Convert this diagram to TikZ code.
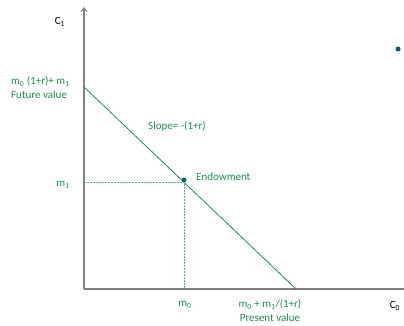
\documentclass[tikz,border=0pt]{standalone}
\usepackage{amsmath}
\usepackage{xcolor}
\usepackage{fontspec}
\setmainfont{Carlito}
\usetikzlibrary{arrows.meta}

\definecolor{budgetgreen}{RGB}{30,140,80}
\definecolor{axisgray}{RGB}{128,128,128}
\definecolor{dotblue}{RGB}{20,90,110}

\tikzset{
    lbl/.style={text=budgetgreen, font=\fontsize{11}{14}\selectfont, inner sep=1pt},
    axlbl/.style={text=black, font=\fontsize{11}{14}\selectfont, inner sep=1pt},
    guide/.style={budgetgreen!70, dashed, dash pattern=on 2pt off 1pt, line width=0.5pt},
    dot/.style={circle, fill=dotblue, inner sep=0pt, minimum size=5pt}
}

\begin{document}
\begin{tikzpicture}[x=1pt, y=-1pt]
    \useasboundingbox (0,0) rectangle (404,326);

    % Axes
    \coordinate (O) at (84,289);
    \coordinate (ytop) at (84,7);
    \coordinate (xend) at (404,289);
    \draw[axisgray, line width=2pt, -{Straight Barb[length=4pt, width=6pt, line width=1pt]}] (O) -- (ytop);
    \draw[axisgray, line width=2pt] (O) -- (xend);
    \node[axlbl] (c1) at (60,22) {C\textsubscript{1}};
    \node[axlbl] (c0) at (395,306) {C\textsubscript{0}};

    % Budget line
    \coordinate (fv) at (84,87);
    \coordinate (pv) at (296,289);
    \draw[budgetgreen, line width=0.8pt] (fv) -- (pv);
    \node[lbl, align=left, anchor=west] (fvlabel) at (10,88) {m\textsubscript{0} (1+r)+ m\textsubscript{1}\\Future value};
    \node[lbl, align=center] (pvlabel) at (270,311) {m\textsubscript{0} + m\textsubscript{1}/(1+r)\\Present value};
    \node[lbl] (slope) at (177,126) {Slope= -(1+r)};

    % Endowment
    \node[dot] (endow) at (184,180) {};
    \node[lbl, anchor=west] (endowlabel) at (195,177) {Endowment};
    \coordinate (m1pt) at (84,182);
    \coordinate (m0pt) at (184,289);
    \draw[guide] (m1pt) -- (184,182) -- (m0pt);
    \node[lbl] (m1) at (63,185) {m\textsubscript{1}};
    \node[lbl] (m0) at (185,305) {m\textsubscript{0}};

    % stray point
    \node[dot] (extra) at (398,49) {};
\end{tikzpicture}
\end{document}
